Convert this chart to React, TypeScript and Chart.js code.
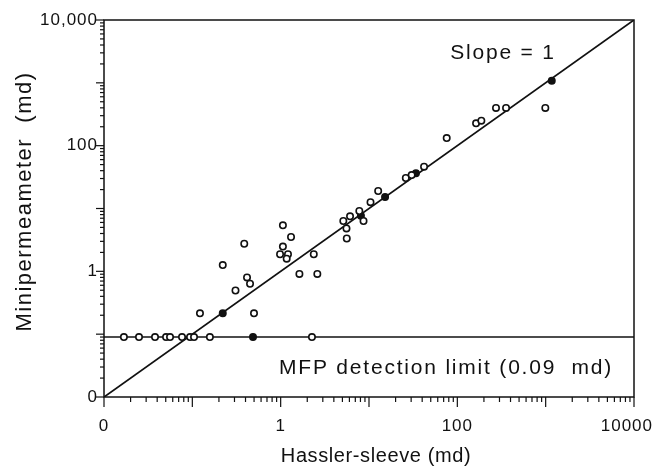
import React, { useEffect, useRef } from "react";
import { Chart, registerables } from "chart.js";

Chart.register(...registerables);

// ---- data ----
const AXIS_MIN = 0.01;
const AXIS_MAX = 10000;
const DETECTION_LIMIT = 0.09;

const TICK_VALUES = [0.01, 1, 100, 10000];
const X_TICK_LABELS = ["0", "1", "100", "10000"];
const Y_TICK_LABELS = ["0", "1", "100", "10,000"];

// open circles: Hassler-sleeve (x) vs minipermeameter (y), md
const hasslerOpen = [
  0.122, 0.221, 0.499, 0.308, 0.387, 0.416, 0.45, 1.06, 1.31, 1.06, 0.984,
  1.21, 1.17, 1.63, 2.6, 2.37, 5.12, 5.56, 5.6, 6.1, 7.77, 8.67, 10.4, 12.7,
  26.1, 30.4, 42.0, 75.8, 163, 187, 274, 356, 991,
];
const miniOpen = [
  0.215, 1.26, 0.215, 0.495, 2.75, 0.8, 0.635, 5.4, 3.52, 2.48, 1.87, 1.87,
  1.59, 0.908, 0.908, 1.87, 6.33, 4.81, 3.33, 7.51, 9.13, 6.33, 12.6, 19.0,
  30.6, 34.1, 46.3, 132, 227, 250, 398, 398, 398,
];

// dark (overlapping) symbols
const hasslerSolid = [0.221, 8.1, 15.2, 34.0, 1172, 0.486];
const miniSolid = [0.215, 7.7, 15.2, 36.3, 1082, 0.09];

// samples below the MFP detection limit (plotted at the limit)
const hasslerBelowLimit = [
  0.0168, 0.0249, 0.0378, 0.0504, 0.0559, 0.0764, 0.0942, 0.1045, 0.158, 2.26,
];

const SLOPE_LINE = [AXIS_MIN, AXIS_MAX];

const FONT = '"Liberation Sans", Arial, Helvetica, sans-serif';
const INK = "#111";

const decorPlugin = {
  id: "decor",
  beforeDraw(chart: any) {
    (chart.ctx as any).letterSpacing = "1px";
  },
  afterDraw(chart: any) {
    const { ctx, chartArea: a, scales, width } = chart;
    const x = scales.x;
    const y = scales.y;
    ctx.save();
    (ctx as any).letterSpacing = "0px";
    ctx.strokeStyle = INK;
    ctx.lineWidth = 1.5;
    ctx.strokeRect(a.left, a.top, a.right - a.left, a.bottom - a.top);

    // log tick marks
    ctx.lineWidth = 1.2;
    for (let d = -2; d <= 4; d++) {
      for (let k = 1; k <= 9; k++) {
        const v = k * Math.pow(10, d);
        if (v > AXIS_MAX * 1.0001) break;
        const major = k === 1;
        const px = x.getPixelForValue(v);
        ctx.beginPath();
        ctx.moveTo(px, a.bottom);
        ctx.lineTo(px, a.bottom + (major ? 10 : 5));
        ctx.stroke();
        const py = y.getPixelForValue(v);
        ctx.beginPath();
        ctx.moveTo(a.left, py);
        ctx.lineTo(a.left - (major ? 8 : 4), py);
        ctx.stroke();
      }
    }

    ctx.fillStyle = INK;
    ctx.textAlign = "center";
    ctx.textBaseline = "middle";

    // x tick labels (kept inside the canvas at the right edge)
    ctx.font = `17px ${FONT}`;
    (ctx as any).letterSpacing = "1px";
    TICK_VALUES.forEach((v, i) => {
      const label = X_TICK_LABELS[i];
      const w = ctx.measureText(label).width;
      let cx = x.getPixelForValue(v);
      if (cx + w / 2 > width - 1) cx = width - 1 - w / 2;
      ctx.fillText(label, cx, a.bottom + 29);
    });

    // annotations
    ctx.font = `21px ${FONT}`;
    (ctx as any).letterSpacing = "1.8px";
    ctx.fillText("Slope = 1", a.right - 131, a.top + 33);
    ctx.fillText("MFP detection limit (0.09  md)", a.left + 342, a.bottom - 29);

    // axis titles
    ctx.font = `20px ${FONT}`;
    (ctx as any).letterSpacing = "0.6px";
    ctx.fillText("Hassler-sleeve (md)", (a.left + a.right) / 2 + 7, a.bottom + 59);

    ctx.save();
    ctx.translate(25, (a.top + a.bottom) / 2 - 7);
    ctx.rotate(-Math.PI / 2);
    ctx.font = `22px ${FONT}`;
    (ctx as any).letterSpacing = "1.5px";
    ctx.fillText("Minipermeameter  (md)", 0, 0);
    ctx.restore();

    ctx.restore();
  },
};

export default function App() {
  const ref = useRef<HTMLCanvasElement | null>(null);

  useEffect(() => {
    if (!ref.current) return;
    const openPts = hasslerOpen.map((h, i) => ({ x: h, y: miniOpen[i] }));
    const solidPts = hasslerSolid.map((h, i) => ({ x: h, y: miniSolid[i] }));
    const limitPts = hasslerBelowLimit.map((h) => ({ x: h, y: DETECTION_LIMIT }));
    const slopePts = SLOPE_LINE.map((v) => ({ x: v, y: v }));
    const limitLine = SLOPE_LINE.map((v) => ({ x: v, y: DETECTION_LIMIT }));

    const pointBase = {
      pointStyle: "circle",
      pointRadius: 3.2,
      pointBorderWidth: 1.6,
      pointBorderColor: INK,
      showLine: false,
    };

    const chart = new Chart(ref.current, {
      type: "scatter",
      data: {
        datasets: [
          { label: "open", data: openPts, ...pointBase, pointBackgroundColor: "#fff", order: 0 },
          { label: "below limit", data: limitPts, ...pointBase, pointBackgroundColor: "#fff", order: 0 },
          { label: "solid", data: solidPts, ...pointBase, pointBackgroundColor: INK, order: 0 },
          {
            label: "slope 1",
            data: slopePts,
            showLine: true,
            pointRadius: 0,
            borderColor: INK,
            borderWidth: 1.8,
            fill: false,
            order: 2,
          },
          {
            label: "limit",
            data: limitLine,
            showLine: true,
            pointRadius: 0,
            borderColor: INK,
            borderWidth: 1.6,
            fill: false,
            order: 2,
          },
        ] as any,
      },
      options: {
        responsive: false,
        animation: false,
        devicePixelRatio: 1,
        layout: { padding: { top: 20, right: 20, left: 0, bottom: 0 } },
        plugins: {
          legend: { display: false },
          tooltip: { enabled: false },
        },
        scales: {
          x: {
            type: "logarithmic",
            position: "bottom",
            min: AXIS_MIN,
            max: AXIS_MAX,
            grid: { display: false, drawTicks: false },
            border: { display: false },
            afterBuildTicks: (s: any) => {
              s.ticks = TICK_VALUES.map((v) => ({ value: v }));
            },
            afterFit: (s: any) => {
              s.height = 69;
              s.paddingLeft = 0;
              s.paddingRight = 0;
            },
            ticks: { display: false },
          },
          y: {
            type: "logarithmic",
            position: "left",
            min: AXIS_MIN,
            max: AXIS_MAX,
            grid: { display: false, drawTicks: false },
            border: { display: false },
            afterBuildTicks: (s: any) => {
              s.ticks = TICK_VALUES.map((v) => ({ value: v }));
            },
            afterFit: (s: any) => {
              s.width = 104;
              s.paddingTop = 0;
              s.paddingBottom = 0;
            },
            ticks: {
              autoSkip: false,
              padding: 6,
              color: INK,
              font: { family: FONT, size: 17 },
              callback: (_v: any, i: number) => Y_TICK_LABELS[i],
            },
          },
        },
      } as any,
      plugins: [decorPlugin],
    });
    return () => chart.destroy();
  }, []);

  return (
    <div style={{ position: "absolute", left: 0, top: 0, width: 654, height: 466, background: "#fff" }}>
      <canvas ref={ref} width={654} height={466} style={{ display: "block" }} />
    </div>
  );
}
